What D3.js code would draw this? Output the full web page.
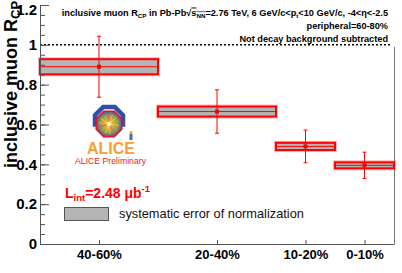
<!DOCTYPE html>
<html>
<head>
<meta charset="utf-8">
<script src="https://cdn.jsdelivr.net/npm/d3@7"></script>
<style>
body { margin: 0; background: #fff; }
svg { display: block; font-family: "Liberation Sans", Arial, Helvetica, sans-serif; }
</style>
</head>
<body>
<svg id="svg1" width="402" height="273"></svg>
<script>
// centrality classes, bins (in class units) and measured R_CP
var classes = ["40-60%", "20-40%", "10-20%", "0-10%"];
var binLow = [0, 2, 4, 5];
var binHigh = [2, 4, 5, 6];
var rcp = [0.89, 0.665, 0.49, 0.395];
var statErr = [0.153, 0.109, 0.082, 0.066];
var systErr = [0.038, 0.025, 0.018, 0.015];
var yTicks = [0, 0.2, 0.4, 0.6, 0.8, 1, 1.2];

var red = "#ff0000";
var svg = d3.select('#svg1');

var x = d3.scaleLinear().domain([0, 6]).range([40, 394]);
var y = d3.scaleLinear().domain([0, 1.2]).range([244, 5]);

var centers = binLow.map(function(d, i) { return (d + binHigh[i]) / 2; });

// reference line at 1
svg.append('line')
    .attr('x1', x(0)).attr('x2', x(6) - 2)
    .attr('y1', y(1)).attr('y2', y(1))
    .attr('stroke', '#000').attr('stroke-width', 1.5)
    .attr('stroke-dasharray', '2,2');

// right frame (top part is hidden by the text pave)
svg.append('line')
    .attr('x1', x(6) + 0.5).attr('x2', x(6) + 0.5)
    .attr('y1', 47).attr('y2', y(0))
    .attr('stroke', '#777').attr('stroke-width', 1);

// systematic boxes
var boxes = svg.append('g');
classes.forEach(function(c, i) {
    var bx = x(binLow[i]), bw = x(binHigh[i]) - x(binLow[i]);
    var top = y(rcp[i] + systErr[i]), bh = y(rcp[i] - systErr[i]) - top;
    boxes.append('rect')
        .attr('x', bx).attr('y', top).attr('width', bw).attr('height', bh)
        .attr('fill', 'none').attr('stroke', 'rgba(255,0,0,0.3)').attr('stroke-width', 4);
    boxes.append('rect')
        .attr('x', bx).attr('y', top).attr('width', bw).attr('height', bh)
        .attr('fill', '#b4b4b4').attr('stroke', red).attr('stroke-width', 2);
    boxes.append('line')
        .attr('x1', bx).attr('x2', bx + bw)
        .attr('y1', y(rcp[i])).attr('y2', y(rcp[i]))
        .attr('stroke', red).attr('stroke-width', 1);
});

// statistical error bars and markers
var pts = svg.append('g').attr('stroke', red).attr('stroke-width', 1);
classes.forEach(function(c, i) {
    var cx = x(centers[i]);
    var hi = y(rcp[i] + statErr[i]), lo = y(rcp[i] - statErr[i]);
    pts.append('line').attr('x1', cx).attr('x2', cx).attr('y1', hi).attr('y2', lo);
    pts.append('line').attr('x1', cx - 2).attr('x2', cx + 2).attr('y1', hi).attr('y2', hi);
    pts.append('line').attr('x1', cx - 2).attr('x2', cx + 2).attr('y1', lo).attr('y2', lo);
    pts.append('rect').attr('x', cx - 2).attr('y', y(rcp[i]) - 2)
        .attr('width', 4).attr('height', 4).attr('fill', red).attr('stroke', 'none');
});

// y axis: minor ticks then major ticks with labels (ticks point inwards)
var yMinor = d3.axisLeft(y).tickValues(d3.range(0, 1.2001, 0.05))
    .tickSizeInner(-5).tickSizeOuter(0).tickFormat('');
svg.append('g').attr('transform', 'translate(40,0)').call(yMinor)
    .call(function(g) { g.select('.domain').remove(); })
    .selectAll('line').attr('stroke', '#555');

var yAxis = d3.axisLeft(y).tickValues(yTicks)
    .tickSizeInner(-9).tickSizeOuter(0).tickPadding(3)
    .tickFormat(function(d) { return String(+d.toFixed(1)); });
var gy = svg.append('g').attr('transform', 'translate(40,0)').call(yAxis);
gy.select('.domain').attr('stroke', '#555');
gy.selectAll('line').attr('stroke', '#555');
gy.selectAll('text').attr('font-size', 15).attr('font-weight', 'bold')
    .attr('fill', '#000').attr('font-family', null);
// keep the top label inside the picture
gy.selectAll('text').filter(function(d) { return d === 1.2; }).attr('dy', '0.6em');

// x axis
var xAxis = d3.axisBottom(x).tickValues(centers)
    .tickSizeInner(-4).tickSizeOuter(0).tickPadding(6)
    .tickFormat(function(d, i) { return classes[i]; });
var gx = svg.append('g').attr('transform', 'translate(0,244)').call(xAxis);
gx.select('.domain').attr('stroke', '#555');
gx.selectAll('line').attr('stroke', '#555');
gx.selectAll('text').attr('font-size', 13).attr('font-weight', 'bold')
    .attr('fill', '#000').attr('font-family', null);

// y title
var yt = svg.append('text')
    .attr('transform', 'translate(17,168) rotate(-90)')
    .attr('font-size', 18).attr('font-weight', 'bold');
yt.append('tspan').text('inclusive muon R');
yt.append('tspan').attr('font-size', 13).attr('dy', 3).text('CP');

// header text
var t1 = svg.append('text').attr('x', 388).attr('y', 15.5)
    .attr('text-anchor', 'end').attr('font-size', 9.2).attr('font-weight', 'bold');
t1.append('tspan').text('inclusive muon R');
t1.append('tspan').attr('font-size', 6.2).attr('dy', 2).text('CP');
t1.append('tspan').attr('dy', -2).text(' in Pb-Pb\u221A');
t1.append('tspan').attr('text-decoration', 'overline').text('s');
t1.append('tspan').attr('font-size', 6.2).attr('dy', 2).attr('text-decoration', 'overline').text('NN');
t1.append('tspan').attr('dy', -2).text('=2.76 TeV, 6 GeV/c<p');
t1.append('tspan').attr('font-size', 6.2).attr('dy', 2).text('t');
t1.append('tspan').attr('dy', -2).text('<10 GeV/c, -4<\u03B7<-2.5');

svg.append('text').attr('x', 388).attr('y', 29)
    .attr('text-anchor', 'end').attr('font-size', 9.2).attr('font-weight', 'bold')
    .text('peripheral=60-80%');
svg.append('text').attr('x', 388).attr('y', 41.5)
    .attr('text-anchor', 'end').attr('font-size', 9.2).attr('font-weight', 'bold')
    .text('Not decay background subtracted');

// ALICE logo
var defs = svg.append('defs');
var grad = defs.append('radialGradient').attr('id', 'burst');
grad.append('stop').attr('offset', '0%').attr('stop-color', '#ffe040');
grad.append('stop').attr('offset', '35%').attr('stop-color', '#f0a030');
grad.append('stop').attr('offset', '70%').attr('stop-color', '#8aa050');
grad.append('stop').attr('offset', '100%').attr('stop-color', '#6a4a9a');

function octagon(cx, cy, apothem, angles) {
    var r = apothem / Math.cos(Math.PI / 8);
    return angles.map(function(a) {
        var t = a * Math.PI / 180;
        return [cx + r * Math.cos(t), cy + r * Math.sin(t)];
    });
}
var frameAngles = [157.5, 202.5, 247.5, 292.5, 337.5, 382.5];
svg.append('path')
    .attr('d', d3.line()(octagon(109, 121, 14, frameAngles)))
    .attr('fill', 'none').attr('stroke', '#2f4fa8').attr('stroke-width', 4.5)
    .attr('stroke-linejoin', 'miter');

var allAngles = d3.range(8).map(function(k) { return 22.5 + k * 45; });
svg.append('path')
    .attr('d', d3.line()(octagon(109, 124, 12.8, allAngles)) + 'Z')
    .attr('fill', 'url(#burst)').attr('stroke', '#e8102a').attr('stroke-width', 1.5);

var rayColors = ['#ffe860', '#9ad050', '#c04890', '#ffd040'];
var rays = svg.append('g');
d3.range(14).forEach(function(k) {
    var t = (k * 360 / 14 + 8) * Math.PI / 180;
    rays.append('line')
        .attr('x1', 109).attr('y1', 124)
        .attr('x2', 109 + 10 * Math.cos(t)).attr('y2', 124 + 10 * Math.sin(t))
        .attr('stroke', rayColors[k % 4]).attr('stroke-width', 0.8).attr('opacity', 0.8);
});
svg.append('circle').attr('cx', 109).attr('cy', 124).attr('r', 2.2).attr('fill', '#fff2a0');

svg.append('rect').attr('x', 129.5).attr('y', 134).attr('width', 3).attr('height', 6).attr('fill', '#3a6fc0');
svg.append('circle').attr('cx', 131).attr('cy', 132.5).attr('r', 1.5).attr('fill', '#f0a030');

svg.append('text').attr('x', 111).attr('y', 154)
    .attr('text-anchor', 'middle').attr('font-size', 16).attr('font-weight', 'bold')
    .attr('fill', '#f5a033').text('ALICE');
svg.append('text').attr('x', 110.5).attr('y', 164)
    .attr('text-anchor', 'middle').attr('font-size', 8.7)
    .attr('fill', '#f01818').text('ALICE Preliminary');

// luminosity
var lum = svg.append('text').attr('x', 65).attr('y', 198)
    .attr('font-size', 14).attr('font-weight', 'bold').attr('fill', red);
lum.append('tspan').text('L');
lum.append('tspan').attr('font-size', 9.5).attr('dy', 3).text('int');
lum.append('tspan').attr('dy', -3).text('=2.48 \u03BCb');
lum.append('tspan').attr('font-size', 9.5).attr('dy', -6).text('-1');

// normalization legend
svg.append('rect').attr('x', 64.5).attr('y', 207.5).attr('width', 44).attr('height', 13)
    .attr('fill', '#b4b4b4').attr('stroke', '#555').attr('stroke-width', 1);
svg.append('text').attr('x', 119).attr('y', 217.5)
    .attr('font-size', 12.8).attr('fill', '#111')
    .text('systematic error of normalization');
</script>
</body>
</html>
